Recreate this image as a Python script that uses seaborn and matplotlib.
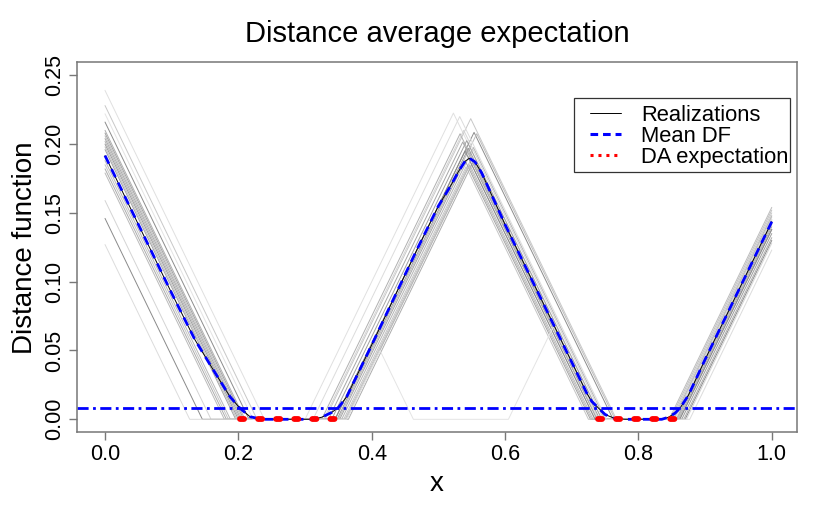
import numpy as np
import pandas as pd
import matplotlib
matplotlib.use("Agg")
import matplotlib.pyplot as plt
from matplotlib.lines import Line2D
from matplotlib.patches import Rectangle
import seaborn as sns

# ----------------------------------------------------------
# Data
# ----------------------------------------------------------

# zero sets (intervals) of each realization
realization_sets = [
    [(0.239, 0.300), (0.745, 0.862)],
    [(0.228, 0.330), (0.767, 0.850)],
    [(0.216, 0.345), (0.762, 0.870)],
    [(0.210, 0.325), (0.740, 0.855)],
    [(0.208, 0.340), (0.745, 0.858)],
    [(0.206, 0.350), (0.765, 0.846)],
    [(0.204, 0.335), (0.738, 0.860)],
    [(0.202, 0.355), (0.750, 0.852)],
    [(0.200, 0.348), (0.742, 0.865)],
    [(0.198, 0.360), (0.735, 0.848)],
    [(0.196, 0.352), (0.728, 0.857)],
    [(0.188, 0.362), (0.732, 0.862)],
    [(0.185, 0.358), (0.725, 0.853)],
    [(0.182, 0.365), (0.738, 0.868)],
    [(0.179, 0.362), (0.730, 0.858)],
    [(0.159, 0.328), (0.748, 0.872)],
    [(0.146, 0.345), (0.735, 0.862)],
    [(0.127, 0.312), (0.752, 0.877)],
    [(0.222, 0.3625), (0.4625, 0.605), (0.740, 0.855)],
]

mean_x = [0, 0.05, 0.10, 0.135, 0.1625, 0.1875, 0.2025, 0.2175, 0.235, 0.31,
          0.325, 0.34, 0.35, 0.3625, 0.40, 0.4675, 0.50, 0.52, 0.53, 0.54,
          0.5465, 0.555, 0.565, 0.60, 0.65, 0.70, 0.715, 0.7225, 0.73, 0.74,
          0.75, 0.765, 0.78, 0.835, 0.845, 0.855, 0.8625, 0.875, 0.90, 0.95, 1.0]
mean_y = [0.1916, 0.1416, 0.0916, 0.0577, 0.0358, 0.0164, 0.008, 0.0019, 0.0, 0.0,
          0.0015, 0.0050, 0.0085, 0.0164, 0.0540, 0.123, 0.155, 0.171, 0.180, 0.1875,
          0.1897, 0.187, 0.179, 0.1415, 0.0915, 0.0415, 0.0265, 0.019, 0.013, 0.0082,
          0.0035, 0.0005, 0.0, 0.0, 0.0015, 0.0045, 0.0082, 0.0175, 0.0435, 0.0935, 0.1436]

threshold = 0.0082
da_segments = [(0.2025, 0.3475), (0.740, 0.8625)]

x_ticks = [0.0, 0.2, 0.4, 0.6, 0.8, 1.0]
x_tick_labels = ["0.0", "0.2", "0.4", "0.6", "0.8", "1.0"]
y_ticks = [0.00, 0.05, 0.10, 0.15, 0.20, 0.25]
y_tick_labels = ["0.00", "0.05", "0.10", "0.15", "0.20", "0.25"]

legend_labels = ["Realizations", "Mean DF", "DA expectation"]

# line greys per realization (style)
shades = ["#e0e0e0", "#c8c8c8", "#8c8c8c", "#b0b0b0", "#a0a0a0", "#bcbcbc",
          "#a8a8a8", "#b4b4b4", "#9c9c9c", "#c0c0c0", "#a4a4a4", "#b8b8b8",
          "#c4c4c4", "#acacac", "#bababa", "#d4d4d4", "#8a8a8a", "#dcdcdc",
          "#e4e4e4"]

# ----------------------------------------------------------
# Build long table of realization polylines
# ----------------------------------------------------------

rows = []
for k, sets in enumerate(realization_sets):
    pts = [(0.0, sets[0][0])]
    for j, (s, e) in enumerate(sets):
        pts.append((s, 0.0))
        pts.append((e, 0.0))
        if j + 1 < len(sets):
            s2 = sets[j + 1][0]
            pts.append(((e + s2) / 2, (s2 - e) / 2))
    pts.append((1.0, 1.0 - sets[-1][1]))
    for order, (px, py) in enumerate(pts):
        rows.append({"real": k, "order": order, "x": px, "y": py})
df = pd.DataFrame(rows)

mean_df = pd.DataFrame({"x": mean_x, "y": mean_y})

# ----------------------------------------------------------
# Plot
# ----------------------------------------------------------

sns.set_style("white")
plt.rcParams["font.family"] = ["Liberation Sans", "DejaVu Sans"]
plt.rcParams["text.color"] = "black"
plt.rcParams["axes.labelcolor"] = "black"

fig = plt.figure(figsize=(8.3, 5.11), dpi=100)
ax = fig.add_axes([0.0931, 0.154, 0.8668, 0.724])

sns.lineplot(data=df, x="x", y="y", hue="real", units="real", estimator=None,
             sort=False, palette=shades, linewidth=0.7, legend=False, ax=ax)

sns.lineplot(data=mean_df, x="x", y="y", color="black", linewidth=0.7,
             estimator=None, sort=False, ax=ax)
sns.lineplot(data=mean_df, x="x", y="y", color="#0000ff", linewidth=2.0,
             estimator=None, sort=False, ax=ax)
ax.lines[-1].set_dashes((3.2, 2.2))

ax.axhline(threshold, color="#0000ff", linewidth=2.0, dashes=(4, 1.6, 1, 1.6))

for (s, e) in da_segments:
    ax.plot([s, e], [0, 0], color="#ff0000", linewidth=4.2,
            dashes=(0.7, 2.4), dash_capstyle="round")

ax.set_xlim(-0.0416, 1.0374)
ax.set_ylim(-0.00945, 0.2594)
ax.set_xticks(x_ticks)
ax.set_xticklabels(x_tick_labels)
ax.set_yticks(y_ticks)
ax.set_yticklabels(y_tick_labels, rotation=90, va="center")
ax.tick_params(axis="both", direction="out", length=5.5, width=1,
               color="#777777", labelcolor="black", labelsize=15.5, pad=3,
               bottom=True, left=True)
for sp in ax.spines.values():
    sp.set_color("#777777")
    sp.set_linewidth(1.1)

ax.set_title("Distance average expectation", fontsize=21, pad=15)
ax.set_xlabel("x", fontsize=20, labelpad=4)
ax.set_ylabel("Distance function", fontsize=20, labelpad=5)

# legend frame drawn as a plain box, entries placed inside it
ax.add_patch(Rectangle((0.6904, 0.7043), 0.3003, 0.1984, transform=ax.transAxes,
                       facecolor="white", edgecolor="#333333", linewidth=0.9,
                       zorder=4))
handles = [
    Line2D([], [], color="black", linewidth=0.7),
    Line2D([], [], color="#0000ff", linewidth=2.2, dashes=(2.5, 1.6)),
    Line2D([], [], color="#ff0000", linewidth=2.2, dashes=(1, 1.6)),
]
leg = ax.legend(handles, legend_labels,
                loc="upper left", bbox_to_anchor=(0.7127, 0.886),
                borderaxespad=0, borderpad=0, fontsize=15.8, frameon=False,
                handlelength=1.4, handletextpad=0.93, labelspacing=0.0)
leg.set_zorder(5)

fig.savefig("out.png", dpi=100)
